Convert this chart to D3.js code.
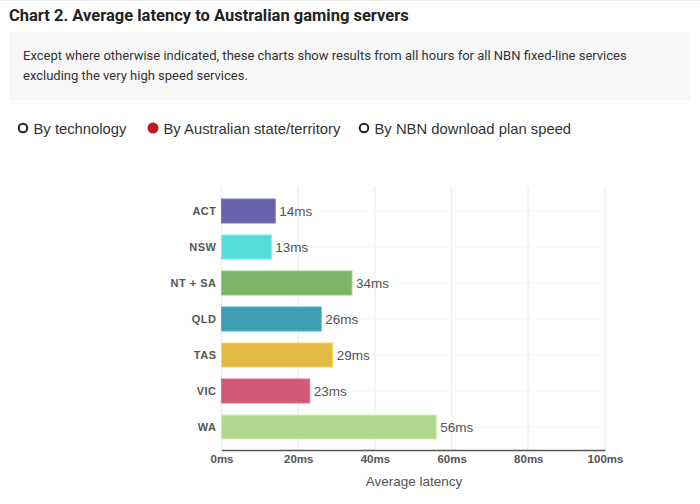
<!DOCTYPE html>
<html><head><meta charset="utf-8">
<script src="https://cdn.jsdelivr.net/npm/d3@7"></script>
<style>
html,body{margin:0;padding:0;background:#fff;}
svg{display:block;font-family:Roboto,"Noto Sans",sans-serif;}
</style></head>
<body>
<svg id="c" width="700" height="504"></svg>
<script>
const categories = ["ACT","NSW","NT + SA","QLD","TAS","VIC","WA"];
const values = [14,13,34,26,29,23,56];
const colors = ["#6a62aa","#55dcd8","#7db46a","#3e9db1","#e1bb46","#d05a76","#b1d68d"];
const xTicks = [0,20,40,60,80,100];
const options = ["By technology","By Australian state/territory","By NBN download plan speed"];
const selected = 1;
const ARIAL = "'Liberation Sans',Arial,sans-serif";

const svg = d3.select("#c");
svg.append("line").attr("x1",0).attr("x2",700).attr("y1",0.5).attr("y2",0.5).attr("stroke","#eee");
svg.append("text").attr("x",9).attr("y",21).attr("font-size",16.5).attr("font-weight","bold").attr("fill","#222")
  .text("Chart 2. Average latency to Australian gaming servers");
svg.append("rect").attr("x",9).attr("y",32).attr("width",681).attr("height",68).attr("fill","#f7f7f7");
svg.append("text").attr("x",23).attr("y",60).attr("font-size",13).attr("fill","#333")
  .text("Except where otherwise indicated, these charts show results from all hours for all NBN fixed-line services");
svg.append("text").attr("x",23).attr("y",80).attr("font-size",13).attr("fill","#333")
  .text("excluding the very high speed services.");

const optX = [23,153,364];
options.forEach((o,i)=>{
  const g = svg.append("g");
  if(i===selected){
    g.append("circle").attr("cx",optX[i]).attr("cy",128).attr("r",5.5).attr("fill","#c0161f");
  } else {
    g.append("circle").attr("cx",optX[i]).attr("cy",128).attr("r",4.3).attr("fill","none").attr("stroke","#222").attr("stroke-width",2);
  }
  g.append("text").attr("x",optX[i]+10.5).attr("y",133.5).attr("font-size",14.8).attr("fill","#333")
    .attr("font-family",ARIAL).text(o);
});

const x = d3.scaleLinear().domain([0,100]).range([221.5,605]);
const y = d3.scaleBand().domain(categories).range([187,451]).paddingInner(1/3).paddingOuter(1/3);

// gridlines
svg.append("g").selectAll("line").data(xTicks).join("line")
  .attr("x1",d=>x(d)).attr("x2",d=>x(d)).attr("y1",186).attr("y2",450)
  .attr("stroke","#f3f3f3").attr("stroke-width",2);
svg.append("g").selectAll("line").data(categories).join("line")
  .attr("x1",221).attr("x2",605).attr("y1",d=>y(d)+y.bandwidth()/2).attr("y2",d=>y(d)+y.bandwidth()/2)
  .attr("stroke","#f6f6f6").attr("stroke-width",1);

// bars
svg.append("g").selectAll("rect").data(values).join("rect")
  .attr("x",x(0)).attr("y",(d,i)=>y(categories[i]))
  .attr("width",d=>x(d)-x(0)).attr("height",y.bandwidth())
  .attr("fill",(d,i)=>colors[i])
  .attr("stroke",(d,i)=>d3.color(colors[i]).brighter(0.4))
  .attr("stroke-width",1);

// value labels
svg.append("g").selectAll("text").data(values).join("text")
  .attr("x",d=>x(d)+4).attr("y",(d,i)=>y(categories[i])+y.bandwidth()/2+5)
  .attr("font-size",13.5).attr("fill","#555").attr("font-family",ARIAL).text(d=>d+"ms");

// y axis labels
const ya = svg.append("g").attr("transform",`translate(${x(0)},0)`)
  .call(d3.axisLeft(y).tickSize(0).tickPadding(5));
ya.select(".domain").remove();
ya.selectAll("text").attr("font-size",11).attr("font-weight","bold").attr("fill","#555")
  .attr("font-family",ARIAL).style("letter-spacing","0.5px");

// x axis
const xa = svg.append("g").attr("transform","translate(0,450)")
  .call(d3.axisBottom(x).tickValues(xTicks).tickFormat(d=>d+"ms").tickSize(0).tickPadding(5));
xa.select(".domain").attr("stroke","#555").attr("stroke-width",1.5);
xa.selectAll("text").attr("font-size",11.5).attr("font-weight","bold").attr("fill","#555")
  .attr("font-family",ARIAL);

svg.append("text").attr("x",414).attr("y",486).attr("text-anchor","middle")
  .attr("font-size",13.5).attr("fill","#555").attr("font-family",ARIAL).text("Average latency");
</script>
</body></html>
